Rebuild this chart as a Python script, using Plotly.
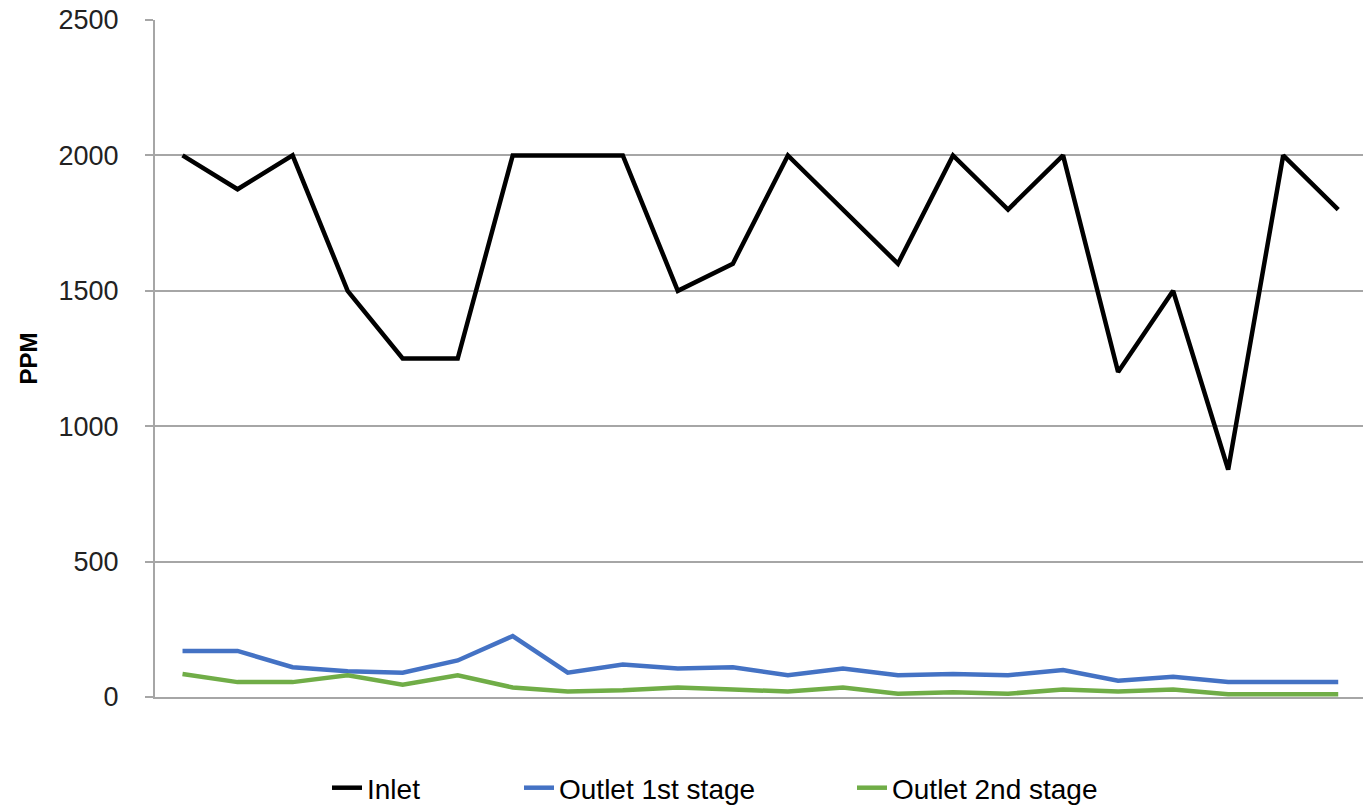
import plotly.graph_objects as go

# Sampling points (22 measurements along the run)
samples = list(range(1, 23))

inlet = [2000, 1875, 2000, 1500, 1250, 1250, 2000, 2000, 2000, 1500, 1600,
         2000, 1800, 1600, 2000, 1800, 2000, 1200, 1500, 840, 2000, 1800]
outlet_1st = [170, 170, 110, 95, 90, 135, 225, 90, 120, 105, 110,
              80, 105, 80, 85, 80, 100, 60, 75, 55, 55, 55]
outlet_2nd = [85, 55, 55, 80, 45, 80, 35, 20, 25, 35, 28,
              20, 35, 12, 18, 12, 28, 20, 28, 10, 10, 10]

series_names = ["Inlet", "Outlet 1st stage", "Outlet 2nd stage"]
series_colors = ["#000000", "#4472C4", "#70AD47"]
y_ticks = [0, 500, 1000, 1500, 2000, 2500]

FONT = "Liberation Sans"
GRID = "#A6A6A6"

fig = go.Figure()
legend_ids = ["legend", "legend2", "legend3"]
for name, vals, color, lg in zip(series_names, [inlet, outlet_1st, outlet_2nd],
                                 series_colors, legend_ids):
    fig.add_trace(go.Scatter(
        x=list(range(len(samples))), y=vals, mode="lines", name=name,
        line=dict(color=color, width=4.5), legend=lg, showlegend=True,
    ))

# one legend per series, laid out in a row beneath the chart
legend_style = dict(orientation="h", xref="container", yref="container",
                    yanchor="middle", y=22 / 810, xanchor="left",
                    bgcolor="rgba(0,0,0,0)", borderwidth=0,
                    font=dict(family=FONT, size=28, color="#000000"))

fig.update_layout(
    width=1363, height=810,
    margin=dict(l=155, r=0, t=20, b=113, autoexpand=False),
    showlegend=True,
    paper_bgcolor="white", plot_bgcolor="white",
    font=dict(family=FONT, color="#000000"),
    legend=dict(x=327 / 1363, **legend_style),
    legend2=dict(x=519 / 1363, **legend_style),
    legend3=dict(x=852 / 1363, **legend_style),
    xaxis=dict(
        range=[-0.5, 21.45], showticklabels=False, showgrid=False,
        zeroline=False, showline=True, linecolor=GRID, linewidth=2, ticks="",
    ),
    yaxis=dict(
        range=[0, 2500], tickvals=y_ticks, ticktext=[str(v) for v in y_ticks],
        showgrid=True, gridcolor=GRID, gridwidth=1.5, zeroline=False,
        showline=True, linecolor=GRID, linewidth=2,
        ticks="outside", ticklen=8, tickcolor=GRID, tickwidth=1.5,
        ticklabelstandoff=21,
        tickfont=dict(family=FONT, size=27, color="#222222"),
        title=dict(text="<b>PPM</b>", standoff=14,
                   font=dict(family=FONT, size=24, color="#000000")),
    ),
)

fig.write_html("out.html")
